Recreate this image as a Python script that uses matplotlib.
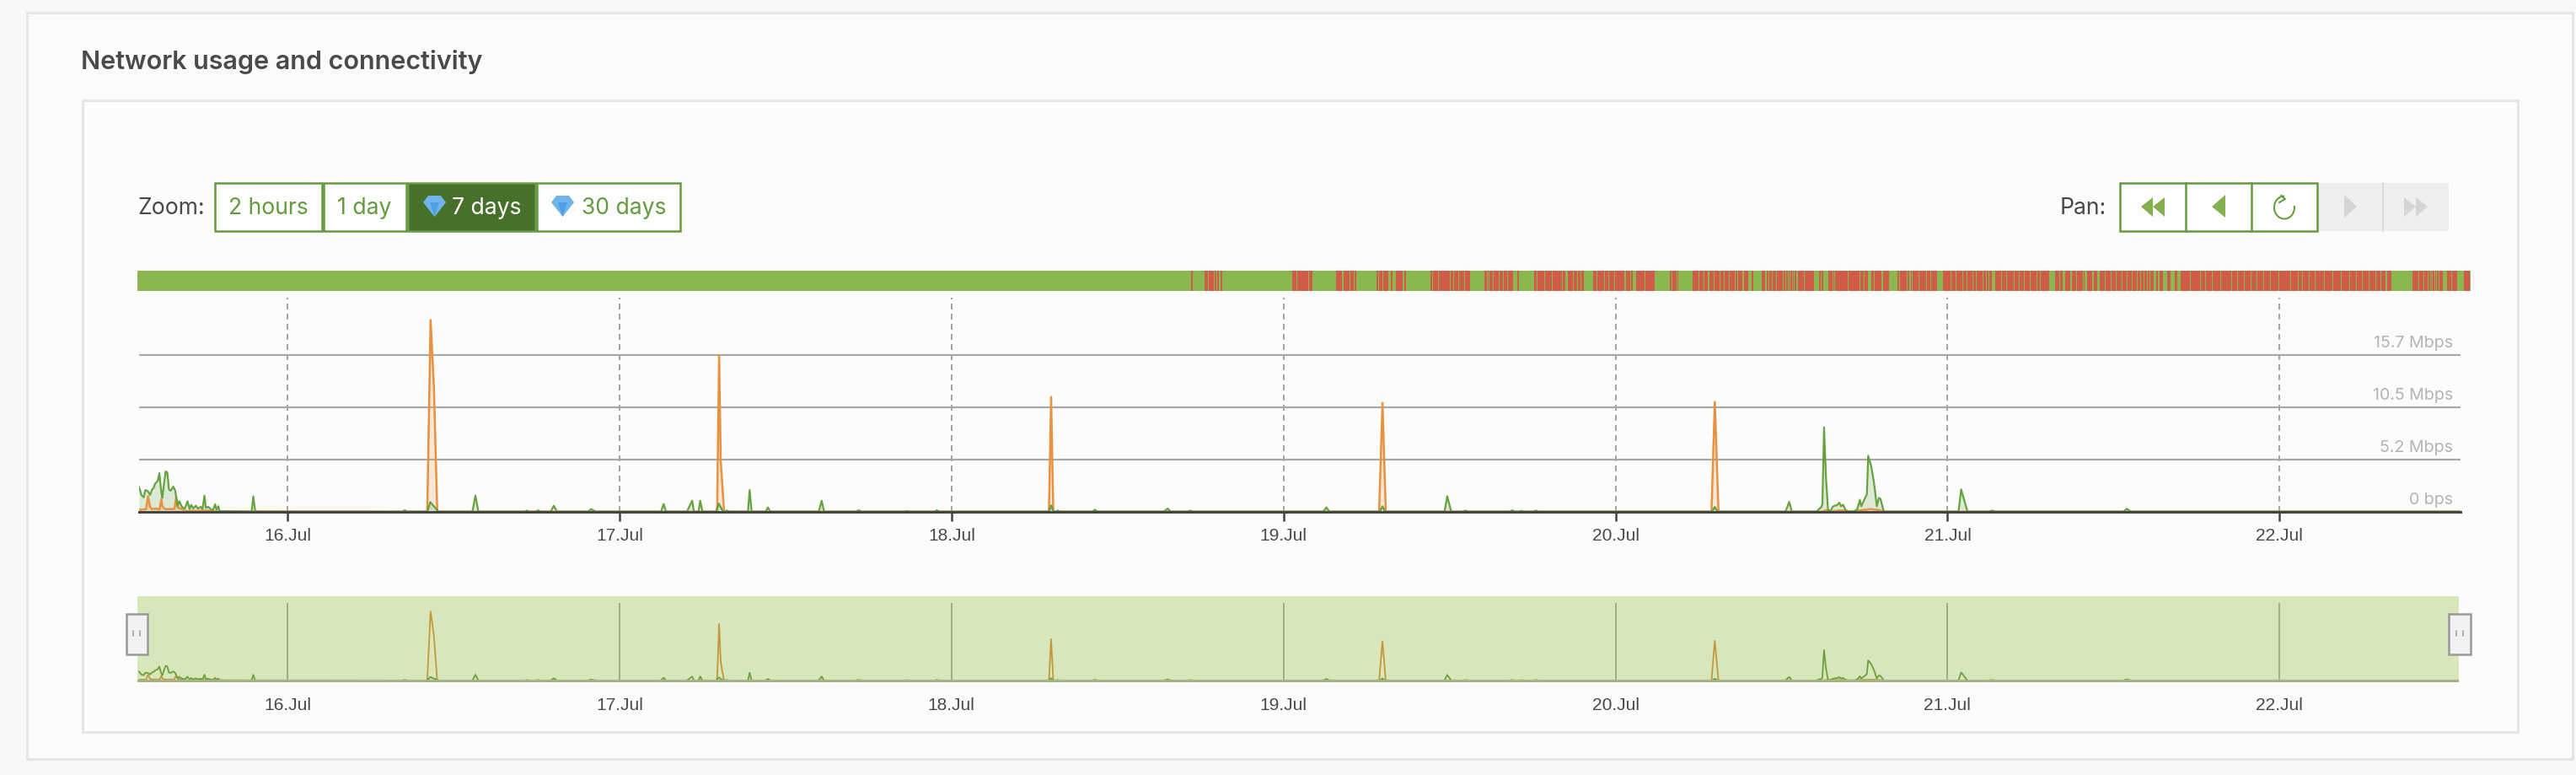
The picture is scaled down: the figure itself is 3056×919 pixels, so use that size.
import matplotlib
matplotlib.use('Agg')
import matplotlib.pyplot as plt
from matplotlib.patches import Rectangle, Polygon, Arc

W, H = 3056, 920

# traffic, days in July vs Mbps
green_days = [15.553, 15.560, 15.567, 15.572, 15.580, 15.586, 15.592, 15.597, 15.601, 15.609, 15.614, 15.620,
    15.623, 15.628, 15.633, 15.638, 15.643, 15.648, 15.656, 15.662, 15.669, 15.674, 15.682, 15.691, 15.699,
    15.705, 15.710, 15.716, 15.724, 15.730, 15.739, 15.744, 15.750, 15.754, 15.761, 15.769, 15.775, 15.782,
    15.786, 15.792, 15.795, 15.892, 15.897, 15.903, 16.346, 16.353, 16.360, 16.421, 16.430, 16.455, 16.557,
    16.566, 16.575, 16.715, 16.721, 16.727, 16.749, 16.755, 16.761, 16.793, 16.802, 16.812, 16.906, 16.914,
    16.929, 17.125, 17.133, 17.140, 17.203, 17.219, 17.224, 17.238, 17.243, 17.250, 17.291, 17.299, 17.312,
    17.319, 17.323, 17.330, 17.387, 17.392, 17.398, 17.440, 17.447, 17.454, 17.600, 17.609, 17.616, 17.712,
    17.720, 17.728, 17.855, 17.865, 17.875, 17.950, 17.956, 17.962, 18.293, 18.300, 18.307, 18.316, 18.320,
    18.326, 18.425, 18.432, 18.440, 18.640, 18.651, 18.660, 18.712, 18.719, 18.726, 19.120, 19.129, 19.138,
    19.290, 19.298, 19.306, 19.485, 19.493, 19.505, 19.541, 19.548, 19.555, 19.682, 19.689, 19.696, 19.710,
    19.717, 19.724, 19.753, 19.760, 19.767, 20.291, 20.299, 20.307, 20.512, 20.523, 20.531, 20.605, 20.620,
    20.623, 20.628, 20.634, 20.640, 20.647, 20.654, 20.660, 20.667, 20.674, 20.679, 20.685, 20.695, 20.719,
    20.728, 20.736, 20.740, 20.757, 20.761, 20.770, 20.778, 20.787, 20.793, 20.798, 20.808, 21.033, 21.041,
    21.060, 21.124, 21.134, 21.144, 21.530, 21.540, 21.552, 22.545]
green_mbps = [2.47, 1.69, 1.46, 2.19, 2.05, 1.69, 2.25, 2.39, 2.81, 3.09, 3.88, 1.97,
    1.41, 2.81, 4.05, 3.94, 2.25, 2.11, 2.53, 2.11, 0.56, 1.07, 0.51, 0.34, 1.07,
    0.28, 0.70, 0.34, 0.62, 0.34, 0.51, 0.28, 1.63, 0.42, 0.51, 0.28, 0.14, 0.76,
    0.22, 0.56, 0.08, 0.03, 1.55, 0.03, 0.03, 0.17, 0.03, 0.03, 0.98, 0.03, 0.03,
    1.63, 0.03, 0.03, 0.14, 0.03, 0.03, 0.17, 0.03, 0.03, 0.62, 0.03, 0.03, 0.28,
    0.03, 0.03, 0.79, 0.03, 0.03, 1.12, 0.03, 0.03, 1.12, 0.03, 0.03, 0.84, 0.03,
    0.03, 0.14, 0.03, 0.03, 2.19, 0.03, 0.03, 0.45, 0.03, 0.03, 1.12, 0.03, 0.03,
    0.17, 0.03, 0.03, 0.08, 0.03, 0.03, 0.17, 0.03, 0.03, 0.65, 0.03, 0.03, 0.14,
    0.03, 0.03, 0.22, 0.03, 0.03, 0.34, 0.03, 0.03, 0.14, 0.03, 0.03, 0.45, 0.03,
    0.03, 0.56, 0.03, 0.03, 1.57, 0.03, 0.03, 0.14, 0.03, 0.03, 0.17, 0.03, 0.03,
    0.11, 0.03, 0.03, 0.14, 0.03, 0.03, 0.50, 0.03, 0.03, 1.01, 0.03, 0.03, 0.50,
    0.79, 8.46, 3.30, 0.22, 0.08, 0.50, 0.62, 0.67, 0.93, 0.56, 0.73, 0.06, 0.06,
    0.28, 1.21, 0.56, 1.77, 5.62, 4.58, 3.03, 0.56, 1.40, 1.29, 0.03, 0.03, 2.25,
    0.03, 0.03, 0.14, 0.03, 0.03, 0.31, 0.03, 0.03]

orange_days = [15.553, 15.574, 15.580, 15.586, 15.592, 15.603, 15.614, 15.620, 15.623, 15.631, 15.659, 15.665,
    15.670, 15.682, 15.694, 15.760, 15.780, 16.421, 16.431, 16.441, 16.451, 17.294, 17.300, 17.305, 17.315,
    18.2935, 18.300, 18.3065, 19.288, 19.298, 19.308, 20.289, 20.299, 20.310, 20.620, 20.628, 20.636, 20.654,
    20.671, 20.697, 20.702, 20.722, 20.731, 20.757, 20.766, 20.791, 20.808, 22.545]
orange_mbps = [0.20, 0.28, 1.55, 0.50, 0.28, 0.34, 0.22, 1.27, 0.56, 0.28, 0.28, 1.41,
    0.42, 0.28, 0.08, 0.14, 0.05, 0.03, 19.2, 12.5, 0.03, 0.03, 15.7, 5.0, 0.03,
    0.03, 11.5, 0.03, 0.03, 10.9, 0.03, 0.03, 11.0, 0.03, 0.03, 0.10, 0.17, 0.06,
    0.14, 0.14, 0.03, 0.03, 0.14, 0.22, 0.28, 0.20, 0.03, 0.03]

y_ticks = [0, 5.23, 10.47, 15.7]
y_labels = ['0 bps', '5.2 Mbps', '10.5 Mbps', '15.7 Mbps']
day_ticks = [16, 17, 18, 19, 20, 21, 22]
day_labels = ['16.Jul', '17.Jul', '18.Jul', '19.Jul', '20.Jul', '21.Jul', '22.Jul']

# connectivity bar, offline runs as slots along the bar
bar_slots = 5426
red_runs = [(65, 69), (96, 104), (106, 118), (121, 124), (127, 129), (133, 136), (300, 309), (312, 323), (325, 337),
    (339, 347), (402, 416), (421, 433), (435, 442), (445, 448), (496, 500), (502, 510), (512, 523), (529, 532),
    (541, 548), (550, 557), (561, 564), (621, 625), (627, 639), (642, 654), (656, 666), (669, 674), (677, 685),
    (688, 700), (702, 709), (711, 714), (747, 752), (755, 757), (759, 766), (769, 771), (773, 780), (783, 790),
    (793, 800), (802, 809), (811, 814), (824, 827), (864, 867), (870, 885), (888, 903), (906, 916), (918, 922),
    (924, 927), (930, 935), (941, 953), (955, 962), (965, 970), (973, 978), (1000, 1008), (1010, 1024), (1027, 1034),
    (1037, 1048), (1051, 1058), (1060, 1072), (1076, 1086), (1088, 1091), (1100, 1118), (1121, 1138), (1140, 1143),
    (1178, 1182), (1184, 1194), (1196, 1198), (1231, 1244), (1247, 1256), (1258, 1266), (1270, 1280), (1283, 1294),
    (1296, 1303), (1306, 1315), (1317, 1329), (1332, 1334), (1337, 1340), (1342, 1347), (1351, 1360), (1368, 1372),
    (1392, 1400), (1403, 1406), (1409, 1414), (1417, 1425), (1428, 1441), (1444, 1446), (1449, 1451), (1454, 1456),
    (1459, 1461), (1464, 1466), (1469, 1472), (1476, 1489), (1492, 1504), (1506, 1512), (1525, 1529), (1532, 1535),
    (1548, 1555), (1558, 1560), (1563, 1568)]
# later part is nearly all offline, so the short online runs are listed
green_runs = [(24, 26), (51, 53), (60, 62), (71, 78), (85, 87), (103, 105), (120, 139), (143, 145), (161, 163), (166, 170),
    (173, 175), (188, 190), (205, 207), (216, 218), (232, 245), (262, 264), (275, 277), (290, 292), (300, 302), (313, 315),
    (322, 324), (337, 340), (345, 347), (350, 352), (359, 367), (380, 382), (393, 395), (409, 411), (422, 424), (434, 436),
    (447, 449), (462, 464), (471, 473), (493, 505), (516, 518), (523, 529), (542, 544), (554, 556), (570, 572), (575, 580),
    (592, 595), (603, 610), (622, 624), (635, 637), (647, 649), (660, 662), (672, 674), (685, 687), (695, 697), (704, 706),
    (712, 714), (719, 721), (725, 727), (735, 740), (744, 748), (756, 767), (775, 785), (789, 798), (819, 821), (842, 844),
    (854, 856), (870, 872), (890, 892), (915, 917), (930, 932), (945, 947), (960, 962), (975, 977), (990, 992), (1005, 1007),
    (1025, 1027), (1053, 1055), (1070, 1072), (1080, 1082), (1095, 1097), (1110, 1112), (1130, 1132), (1150, 1152),
    (1170, 1172), (1190, 1192), (1205, 1207), (1220, 1222), (1235, 1237), (1250, 1252), (1262, 1264), (1275, 1277),
    (1288, 1337), (1350, 1352), (1363, 1365), (1372, 1374), (1377, 1379), (1382, 1384), (1387, 1389), (1392, 1394),
    (1397, 1399), (1408, 1418), (1427, 1429), (1440, 1457), (1470, 1472)]
red_offset = 2386
green_offset = 3954

GREEN = '#5f9e36'
ORANGE = '#e8913f'
BAR_GREEN = '#8ab84e'
BAR_RED = '#cf5c48'
TEXT = '#4a4a4a'
BTN = '#659a3f'

UI_FONT = ['Inter', 'DejaVu Sans']
AX_FONT = ['Liberation Sans', 'DejaVu Sans']


def axes_at(left, top, right, bottom, **kw):
    return fig.add_axes([left / W, 1 - bottom / H, (right - left) / W, (bottom - top) / H], **kw)


def px(n):
    # line widths and font sizes below are thought of in image pixels
    return n * 72 / fig.dpi


fig = plt.figure(figsize=(W / 100, H / 100), dpi=100, facecolor='#f7f9f6')

ui = fig.add_axes([0, 0, 1, 1], zorder=0)
ui.set_xlim(0, W)
ui.set_ylim(H, 0)
ui.axis('off')
ui.add_patch(Rectangle((32, 16), 3020, 885, fc='#fbfbfb', ec='#e6e6e6', lw=px(3)))
ui.add_patch(Rectangle((98, 119.5), 2889, 749, fc='#fcfcfc', ec='#e6e6e6', lw=px(3)))

ui.text(96, 82, 'Network usage and connectivity', family=UI_FONT, weight='semibold', fontsize=px(30.5),
    color=TEXT, va='baseline')
ui.text(163, 247, 'Zoom:', family=UI_FONT, fontsize=px(26.5), color=TEXT, va='center')
ui.text(2444, 247, 'Pan:', family=UI_FONT, fontsize=px(26.5), color=TEXT, va='center')

buttons = [(255, 382, '2 hours', 318, False), (384, 482, '1 day', 432, False),
    (484, 635, '7 days', 577, True), (637, 807, '30 days', 740, False)]
for x0, x1, label, xc, active in buttons:
    ui.add_patch(Rectangle((x0, 217.5), x1 - x0, 57, fc='#47702b' if active else '#fdfdfd', ec=BTN, lw=px(2.5)))
    ui.text(xc, 247, label, family=UI_FONT, fontsize=px(26.5), ha='center', va='center',
        color='white' if active else BTN)

for x0 in (502, 654):
    ui.add_patch(Polygon([(x0 + 6, 233), (x0 + 21, 233), (x0 + 27, 241), (x0 + 13.5, 258), (x0, 241)],
        fc='#6fb5ec', ec='none'))
    ui.add_patch(Polygon([(x0 + 8, 241), (x0 + 19, 241), (x0 + 13.5, 258)], fc='#4f9fe3', ec='none'))

# pan buttons
ui.add_patch(Rectangle((2749, 217.5), 156, 57, fc='#efefef', ec='none'))
ui.plot([2827, 2827], [217.5, 274.5], color='#dadada', lw=px(2))
ui.add_patch(Rectangle((2515, 217.5), 234, 57, fc='#fdfdfd', ec=BTN, lw=px(2.5)))
for x in (2593, 2671):
    ui.plot([x, x], [217.5, 274.5], color=BTN, lw=px(2.5))
ARROW = '#86b050'
ui.add_patch(Polygon([(2540, 246), (2554, 235), (2554, 258)], fc=ARROW, ec='none'))
ui.add_patch(Polygon([(2554, 246), (2568, 235), (2568, 258)], fc=ARROW, ec='none'))
ui.add_patch(Polygon([(2624, 246), (2640, 232), (2640, 259)], fc=ARROW, ec='none'))
ui.add_patch(Arc((2710, 247), 24, 27, theta1=-10, theta2=270, color=BTN, lw=px(2)))
ui.plot([2706, 2711, 2704], [233, 237, 241], color=BTN, lw=px(2))
ui.add_patch(Polygon([(2796, 246), (2781, 232), (2781, 259)], fc='#d5d5d5', ec='none'))
ui.add_patch(Polygon([(2866, 246), (2852, 235), (2852, 258)], fc='#d5d5d5', ec='none'))
ui.add_patch(Polygon([(2880, 246), (2866, 235), (2866, 258)], fc='#d5d5d5', ec='none'))

# connectivity bar
bar = axes_at(162.5, 321.5, 2931, 346, zorder=1)
bar.set_xlim(0, bar_slots)
bar.set_ylim(0, 1)
bar.axis('off')
bar.broken_barh([(0, bar_slots)], (0, 1), color=BAR_GREEN, lw=0)
bar.broken_barh([(a + red_offset - 0.5, b - a + 1) for a, b in red_runs], (0, 1), color=BAR_RED, lw=0)
bar.broken_barh([(green_offset, bar_slots - green_offset - 2)], (0, 1), color=BAR_RED, lw=0)
bar.broken_barh([(a + green_offset, b - a) for a, b in green_runs], (0, 1), color=BAR_GREEN, lw=0)

# main chart
ax = axes_at(165, 354, 2919, 608, zorder=1)
ax.patch.set_visible(False)
ax.set_xlim(15.553, 22.545)
ax.set_ylim(0, 21.43)
for s in ('top', 'left', 'right'):
    ax.spines[s].set_visible(False)
ax.spines['bottom'].set_color('#444444')
ax.spines['bottom'].set_linewidth(px(3))
ax.spines['bottom'].set_zorder(6)
ax.set_yticks(y_ticks[1:])
ax.tick_params(axis='y', length=0, labelleft=False)
ax.set_xticks(day_ticks)
ax.set_xticklabels(day_labels, family=AX_FONT, fontsize=px(21), color=TEXT)
ax.tick_params(axis='x', length=px(11), width=px(2.5), color='#444444', pad=px(7))
ax.grid(axis='y', color='#a8a8a8', lw=px(2.2), zorder=1)
ax.grid(axis='x', color='#a5a5a5', lw=px(2), ls=(0, (3.5, 2.5)), zorder=1)
ax.set_axisbelow(True)
ax.fill_between(orange_days, orange_mbps, color=ORANGE, alpha=0.2, lw=0, zorder=2)
ax.fill_between(green_days, green_mbps, color=GREEN, alpha=0.2, lw=0, zorder=2)
ax.plot(orange_days, orange_mbps, color=ORANGE, lw=px(2.5), zorder=3)
ax.plot(green_days, green_mbps, color=GREEN, lw=px(2.2), zorder=4, alpha=0.95)
for v, label in zip(y_ticks, y_labels):
    ax.annotate(label, (1, v), xycoords=('axes fraction', 'data'), xytext=(px(-9), px(15)),
        textcoords='offset points', ha='right', va='center', family=UI_FONT, fontsize=px(19.6), color='#b4b4b4')

# navigator
nav = axes_at(163, 708, 2917, 810, zorder=1)
nav.set_facecolor('#d8e6bb')
nav.set_xlim(15.548, 22.540)
nav.set_ylim(-0.47, 23.4)
for s in nav.spines.values():
    s.set_visible(False)
nav.set_yticks([])
nav.set_xticks(day_ticks)
nav.set_xticklabels(day_labels, family=AX_FONT, fontsize=px(21), color=TEXT)
nav.tick_params(axis='x', length=0, pad=px(17))
nav.vlines(day_ticks, 0, 21.5, color='#a0ae85', lw=px(2))
nav.axhline(0, color='#a3b485', lw=px(3), zorder=4)
nav.plot(orange_days, orange_mbps, color='#c3983a', lw=px(1.8))
nav.plot(green_days, green_mbps, color='#6aa03a', lw=px(1.8))

# navigator handles sit on top of everything
top = fig.add_axes([0, 0, 1, 1], zorder=3)
top.set_xlim(0, W)
top.set_ylim(H, 0)
top.axis('off')
for x0, x1, m0, m1 in [(150, 174.5, 158, 166), (2905, 2930.5, 2914, 2922)]:
    top.add_patch(Rectangle((x0, 728.5), x1 - x0, 48, fc='#f2f2f2', ec='#999999', lw=px(2.5)))
    for m in (m0, m1):
        top.plot([m, m], [749, 755], color='#999999', lw=px(1.5))

fig.savefig('out.png', dpi=100, facecolor=fig.get_facecolor())
plt.close()
